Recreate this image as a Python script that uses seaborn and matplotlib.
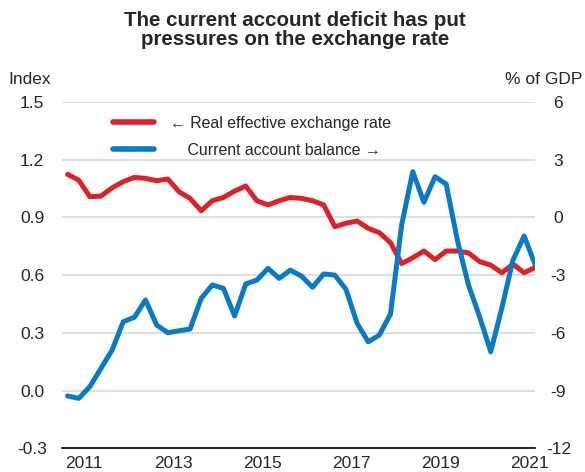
import numpy as np
import pandas as pd
import matplotlib
matplotlib.use("Agg")
import matplotlib.pyplot as plt
from matplotlib.lines import Line2D
import seaborn as sns

# quarterly data, 2011Q1 .. 2021Q3
quarters = pd.period_range("2011Q1", "2021Q3", freq="Q")

# real effective exchange rate, index (left axis)
reer = [1.123, 1.093, 1.007, 1.010, 1.053, 1.085, 1.107, 1.102, 1.090, 1.099,
        1.033, 0.998, 0.934, 0.986, 1.003, 1.036, 1.062, 0.986, 0.964, 0.986,
        1.003, 0.998, 0.986, 0.964, 0.851, 0.869, 0.881, 0.843, 0.820, 0.768,
        0.660, 0.690, 0.725, 0.680, 0.725, 0.725, 0.715, 0.670, 0.652, 0.612,
        0.657, 0.612, 0.640]

# current account balance, % of GDP (right axis)
ca = [-9.27, -9.40, -8.79, -7.84, -6.89, -5.42, -5.19, -4.29, -5.59, -5.99,
      -5.89, -5.80, -4.21, -3.51, -3.69, -5.12, -3.46, -3.26, -2.65, -3.17,
      -2.74, -3.05, -3.63, -2.94, -3.00, -3.74, -5.50, -6.46, -6.11, -5.02,
      -0.40, 2.37, 0.78, 2.11, 1.72, -1.18, -3.51, -5.16, -6.98, -4.70,
      -2.22, -0.97, -2.48]

year_labels = ["2011", "2013", "2015", "2017", "2019", "2021"]
left_ticks = [-0.3, 0.0, 0.3, 0.6, 0.9, 1.2, 1.5]
right_ticks = [-12, -9, -6, -3, 0, 3, 6]

red = "#DB2229"
blue = "#0A7BC2"

sns.set_style("white")
plt.rcParams["font.family"] = ["Liberation Sans", "DejaVu Sans"]
plt.rcParams["axes.unicode_minus"] = False

df = pd.DataFrame({
    "t": [p.year + (p.quarter - 0.5) / 4 for p in quarters],
    "reer": reer,
    "ca": ca,
})

fig, ax = plt.subplots(figsize=(5.85, 4.72), dpi=100)
fig.subplots_adjust(left=0.106, right=0.915, top=0.7845, bottom=0.0498)

sns.lineplot(data=df, x="t", y="reer", ax=ax, color=red, linewidth=3.6)
ax2 = ax.twinx()
sns.lineplot(data=df, x="t", y="ca", ax=ax2, color=blue, linewidth=3.6)

# y axes
ax.set_ylim(-0.3, 1.5)
ax.set_yticks(left_ticks, [f"{v:.1f}" for v in left_ticks], ha="center")
ax.tick_params(axis="y", length=0, pad=21.6, labelsize=12.5)
ax.yaxis.grid(True, color="#d9d9d9", linewidth=1.2)
ax.xaxis.grid(False)

ax2.set_ylim(-12, 6)
ax2.set_yticks(right_ticks, [str(v) for v in right_ticks], ha="center")
ax2.tick_params(axis="y", length=0, pad=16.6, labelsize=12.5)

# x axis: year ticks, quarter minor ticks, labels mid-year
ax.set_xlim(2011, 2021.625)
ax.set_xticks(range(2011, 2022))
ax.set_xticklabels([])
ax.set_xticks(np.arange(2011, 2021.7, 0.25), minor=True)
ax.tick_params(axis="x", which="major", direction="in", length=7, width=1.1, color="black")
ax.tick_params(axis="x", which="minor", direction="in", length=3.5, width=1.1, color="black")

sec = ax.secondary_xaxis("bottom")
sec.set_xticks([int(y) + 0.5 for y in year_labels], year_labels)
sec.tick_params(length=0, pad=5.5, labelsize=12.5)
sec.spines["bottom"].set_visible(False)

for s in ["top", "left", "right"]:
    ax.spines[s].set_visible(False)
ax.spines["bottom"].set_color("black")
ax.spines["bottom"].set_linewidth(1.2)
for s in ax2.spines.values():
    s.set_visible(False)

ax.set_xlabel("")
ax.set_ylabel("")
ax2.set_ylabel("")

# legend
handles = [Line2D([], [], color=red, linewidth=4),
           Line2D([], [], color=blue, linewidth=4)]
labels = ["\u2190 Real effective exchange rate", "    Current account balance \u2192"]
ax2.legend(handles, labels, loc="upper left", bbox_to_anchor=(0.094, 0.978),
           frameon=False, fontsize=11.4, handlelength=2.6, handletextpad=1.0,
           labelspacing=0.75, borderaxespad=0)

# axis titles and chart title
fig.text(8 / 585, 1 - 84 / 472, "Index", ha="left", va="baseline", fontsize=12.5)
fig.text(582 / 585, 1 - 84 / 472, "% of GDP", ha="right", va="baseline", fontsize=12.5)
fig.suptitle("The current account deficit has put\npressures on the exchange rate",
             x=0.504, y=1 - 11 / 472, fontsize=14.8, fontweight="bold", linespacing=1.0)

plt.savefig("out.png", dpi=100)
plt.close()
